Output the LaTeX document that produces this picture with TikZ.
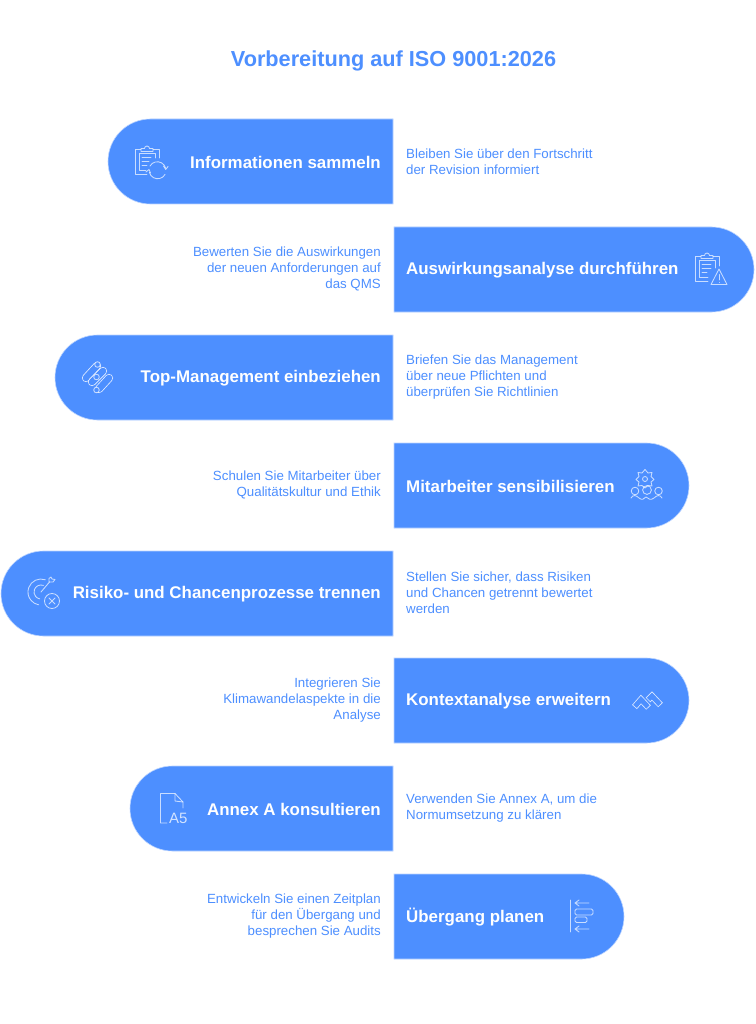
\documentclass[tikz,border=0pt]{standalone}
\usepackage{fontspec}
\setmainfont{Liberation Sans}
\definecolor{pillblue}{HTML}{4D8FFF}
\definecolor{pilledge}{HTML}{BBD4FF}
\tikzset{
  pill/.style={fill=pillblue,draw=pilledge,line width=0.6pt},
  headtext/.style={text=white,font=\bfseries\fontsize{16.9}{20}\selectfont,inner sep=0pt},
  desctext/.style={text=pillblue,font=\fontsize{13.3}{16}\selectfont,inner sep=0pt},
  lefttext/.style={desctext,anchor=east,align=right},
  righttext/.style={desctext,anchor=west,align=left},
  icon/.style={draw=white,draw opacity=0.7,line width=0.85pt,line cap=round,line join=round},
  bandout/.style={white,opacity=0.8,line width=6.4pt,line join=miter},
  bandin/.style={pillblue,line width=4.8pt,line join=miter,shorten <=0.8pt,shorten >=0.8pt},
}
\newcommand{\pillleft}[2]{\path[pill] (393,#2) -- (#1+42.5,#2) arc[start angle=90,end angle=270,radius=42.5pt] -- (393,#2+85) -- cycle;}
\newcommand{\pillright}[2]{\path[pill] (394,#2) -- (#1-42.5,#2) arc[start angle=90,end angle=-90,radius=42.5pt] -- (394,#2+85) -- cycle;}
\begin{document}
\begin{tikzpicture}[x=1pt,y=-1pt]
\useasboundingbox (0,0) rectangle (755,1024);
\fill[white] (0,0) rectangle (755,1024);
\node[text=pillblue,font=\bfseries\fontsize{21.7}{26}\selectfont,inner sep=0pt] (title) at (393.5,61) {Vorbereitung auf ISO 9001:2026};

\pillleft{108}{119}
\pillright{754}{227}
\pillleft{55}{335}
\pillright{689}{443}
\pillleft{1}{551}
\pillright{689}{658}
\pillleft{130}{766}
\pillright{624}{874}

\node[headtext,anchor=east] (h1) at (381,162) {Informationen sammeln};
\node[headtext,anchor=west] (h2) at (406,270) {Auswirkungsanalyse durchführen};
\node[headtext,anchor=east] (h3) at (381,378) {Top-Management einbeziehen};
\node[headtext,anchor=west] (h4) at (406,486) {Mitarbeiter sensibilisieren};
\node[headtext,anchor=east] (h5) at (381,594) {Risiko- und Chancenprozesse trennen};
\node[headtext,anchor=west] (h6) at (406,701) {Kontextanalyse erweitern};
\node[headtext,anchor=east] (h7) at (381,809) {Annex A konsultieren};
\node[headtext,anchor=west] (h8) at (406,917) {Übergang planen};

\node[righttext] (d1) at (406,161.3) {Bleiben Sie über den Fortschritt\\der Revision informiert};
\node[lefttext] (d2) at (381,269.3) {Bewerten Sie die Auswirkungen\\der neuen Anforderungen auf\\das QMS};
\node[righttext] (d3) at (406,377.3) {Briefen Sie das Management\\über neue Pflichten und\\überprüfen Sie Richtlinien};
\node[lefttext] (d4) at (381,485) {Schulen Sie Mitarbeiter über\\Qualitätskultur und Ethik};
\node[righttext] (d5) at (406,593) {Stellen Sie sicher, dass Risiken\\und Chancen getrennt bewertet\\werden};
\node[lefttext] (d6) at (381,700.5) {Integrieren Sie\\Klimawandelaspekte in die\\Analyse};
\node[righttext] (d7) at (406,808.3) {Verwenden Sie Annex A, um die\\Normumsetzung zu klären};
\node[lefttext] (d8) at (381,916.3) {Entwickeln Sie einen Zeitplan\\für den Übergang und\\besprechen Sie Audits};

% icon 1: clipboard with cycle arrows
\draw[icon] (147,174) -- (135.5,174) -- (135.5,149.5) -- (141,149.5) (153,149.5) -- (159,149.5) -- (159,158);
\draw[icon] (141,151.5) -- (141,148.5) -- (144.5,148.5) arc[start angle=180,end angle=0,radius=2.5pt] -- (153,148.5) -- (153,151.5) -- cycle;
\draw[icon] (146,170.5) -- (139,170.5) -- (139,153) -- (155,153) -- (155,158);
\draw[icon] (142,157) -- (151,157) (142,161) -- (149,161) (142,165) -- (147,165);
\draw[icon] (150,166) arc[start angle=150,end angle=15,radius=8.5pt];
\draw[icon] (163.5,166) -- (165.7,169.5) -- (168,166.5);
\draw[icon] (165,174.5) arc[start angle=-30,end angle=-165,radius=8.5pt];
\draw[icon] (150.5,173) -- (149,169.5) -- (146,172);

% icon 2: clipboard with warning
\draw[icon] (708,281) -- (695.5,281) -- (695.5,256.5) -- (701,256.5) (713,256.5) -- (719,256.5) -- (719,266);
\draw[icon] (701,258.5) -- (701,255.5) -- (704.5,255.5) arc[start angle=180,end angle=0,radius=2.5pt] -- (713,255.5) -- (713,258.5) -- cycle;
\draw[icon] (708,277.5) -- (699,277.5) -- (699,260) -- (715,260) -- (715,268);
\draw[icon] (702,264) -- (711,264) (702,268) -- (711,268) (702,272) -- (707,272);
\draw[icon] (719,269) -- (727,284.5) -- (711,284.5) -- cycle;
\draw[icon] (719,274.5) -- (719,280) (719,282.3) -- (719,282.4);

% icon 3: capsules
\foreach \ax/\ay/\bx/\by in {86/378/97/366, 92/382/103/371, 99/389/109/378}{
  \draw[white,opacity=0.85,line width=8.2pt,line cap=round] (\ax,\ay) -- (\bx,\by);
  \draw[line width=6.6pt,pillblue,line cap=round] (\ax,\ay) -- (\bx,\by);
}
\draw[icon,fill=pillblue] (97.5,364.5) circle[radius=2.8pt];
\draw[icon,fill=pillblue] (96.5,377) circle[radius=2.8pt];
\draw[icon,fill=pillblue] (96.5,390) circle[radius=2.8pt];

% icon 4: gear and people
\draw[icon] (645,469.5) -- (648,473) -- (652,472.5) -- (651,476.5) -- (654,479.5) -- (651,482) -- (652,486) -- (648,485.5) -- (645,488) -- (642,485.5) -- (638,486) -- (639,482) -- (636,479.5) -- (639,476.5) -- (638,472.5) -- (642,473) -- cycle;
\draw[icon] (645,479) circle[radius=2.5pt];
\draw[icon] (635,491) circle[radius=3.8pt];
\draw[icon] (647,490) circle[radius=4.4pt];
\draw[icon] (658.5,491) circle[radius=3.8pt];
\draw[icon] (631,498) .. controls (633,494.5) and (636,495) .. (639,498) .. controls (642,500.5) and (644,499) .. (646,497) .. controls (648,499) and (651,500.5) .. (654,498) .. controls (657,495) and (660,494.5) .. (662,498);

% icon 5: target with cross
\draw[icon] (45.4,579.8) arc[start angle=70,end angle=260,radius=13pt];
\draw[icon] (43.4,585.4) arc[start angle=70,end angle=260,radius=7pt];
\draw[icon] (41,592) -- (49.5,582);
\draw[icon] (49,582) -- (49,578.5) -- (51,577) -- (52,579) -- (55,579.5) -- (53,582) -- cycle;
\draw[icon] (52,601) circle[radius=7.5pt];
\draw[icon] (49,598) -- (55,604) (55,598) -- (49,604);

% icon 6: chevrons
\draw[bandout] (648,700) -- (652,696) -- (660.5,705);
\draw[bandin] (648,700) -- (652,696) -- (660.5,705);
\draw[bandout] (634.5,707) -- (641,699.5) -- (648.5,707.5);
\draw[bandin] (634.5,707) -- (641,699.5) -- (648.5,707.5);

% icon 7: document A5
\draw[icon] (167,823) -- (160.5,823) -- (160.5,793.5) -- (175,793.5) -- (183,802) -- (183,808);
\draw[icon] (175,793.5) -- (175,801) -- (183,802);
\node[text=white,opacity=0.75,font=\fontsize{15}{15}\selectfont,inner sep=0pt,anchor=base west] (a5) at (169,823.5) {A5};

% icon 8: timeline
\draw[icon] (570.5,900) -- (570.5,932);
\draw[icon] (589,903) -- (575,903) (579,900) -- (575,903) -- (579,906);
\draw[icon] (589,929) -- (575,929) (579,926) -- (575,929) -- (579,932);
\draw[icon,rounded corners=1.5pt] (575,909) rectangle (593,915);
\draw[icon,rounded corners=1.5pt] (575,917) rectangle (587,922.5);
\end{tikzpicture}
\end{document}
